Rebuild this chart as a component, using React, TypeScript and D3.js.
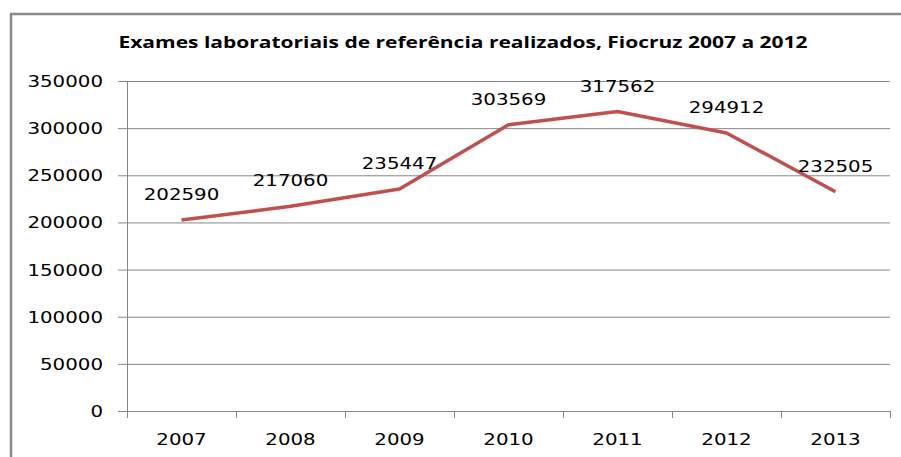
import { useEffect, useRef } from 'react'
import * as d3 from 'd3'

const TITLE = 'Exames laboratoriais de referência realizados, Fiocruz 2007 a 2012'
const years = ['2007', '2008', '2009', '2010', '2011', '2012', '2013']
const exams = [202590, 217060, 235447, 303569, 317562, 294912, 232505]
const yTicks = [0, 50000, 100000, 150000, 200000, 250000, 300000, 350000]

export default function App() {
  const ref = useRef<SVGSVGElement | null>(null)
  useEffect(() => {
    if (!ref.current) return
    const W = 901, H = 457
    const svg = d3.select(ref.current)
    svg.selectAll('*').remove()
    svg.attr('width', W).attr('height', H)
    const FONT = 'DejaVu Sans, sans-serif'
    const SX = 1.2 // picture is stretched sideways
    const grid = '#868686'

    // outer frame
    svg.append('path').attr('d', `M11,${H}V14H${W}`).attr('fill', 'none').attr('stroke', '#8a8a8a').attr('stroke-width', 2.5)

    svg.append('text').attr('x', 463).attr('y', 48).attr('text-anchor', 'middle')
      .attr('textLength', 689).attr('lengthAdjust', 'spacingAndGlyphs')
      .style('font-family', 'Open Sans, sans-serif').style('font-weight', 'bold').style('font-size', '15.5px').style('fill', '#000')
      .text(TITLE)

    const x = d3.scaleBand<string>().domain(years).range([127, 890])
    const y = d3.scaleLinear().domain([0, 350000]).range([411, 81])

    // gridlines + y ticks
    const gy = svg.append('g')
    yTicks.forEach(t => {
      gy.append('line').attr('x1', 118).attr('x2', 890).attr('y1', y(t) + 0.5).attr('y2', y(t) + 0.5)
        .attr('stroke', grid).attr('stroke-width', 1)
      gy.append('g').attr('transform', `translate(103,${y(t) + 6}) scale(${SX},1)`)
        .append('text').attr('text-anchor', 'end')
        .style('font-family', FONT).style('font-size', '16.5px').style('fill', '#000')
        .text(String(t))
    })
    // vertical axis
    svg.append('line').attr('x1', 127.5).attr('x2', 127.5).attr('y1', y(350000)).attr('y2', y(0) + 7)
      .attr('stroke', grid).attr('stroke-width', 1)

    // x ticks between categories
    const edges = years.map(d => x(d) as number).concat([x.range()[1]])
    edges.forEach(e => {
      svg.append('line').attr('x1', Math.round(e) + 0.5).attr('x2', Math.round(e) + 0.5).attr('y1', y(0)).attr('y2', y(0) + 7)
        .attr('stroke', grid).attr('stroke-width', 1)
    })
    years.forEach(d => {
      svg.append('g').attr('transform', `translate(${(x(d) as number) + x.bandwidth() / 2},445) scale(${SX},1)`)
        .append('text').attr('text-anchor', 'middle')
        .style('font-family', FONT).style('font-size', '16.5px').style('fill', '#000')
        .text(d)
    })

    const pts = years.map((d, i) => ({ cx: (x(d) as number) + x.bandwidth() / 2, v: exams[i] }))
    const line = d3.line<{ cx: number; v: number }>().x(p => p.cx).y(p => y(p.v))
    svg.append('path').attr('d', line(pts)).attr('fill', 'none').attr('stroke', '#C0504D')
      .attr('stroke-width', 3.5).attr('stroke-linejoin', 'round')

    pts.forEach(p => {
      svg.append('g').attr('transform', `translate(${p.cx},${y(p.v) - 20}) scale(${SX},1)`)
        .append('text').attr('text-anchor', 'middle')
        .style('font-family', FONT).style('font-size', '16.5px').style('fill', '#000')
        .text(String(p.v))
    })
  }, [])
  return <svg ref={ref} style={{ position: 'absolute', left: 0, top: 0, background: '#fff' }} />
}
